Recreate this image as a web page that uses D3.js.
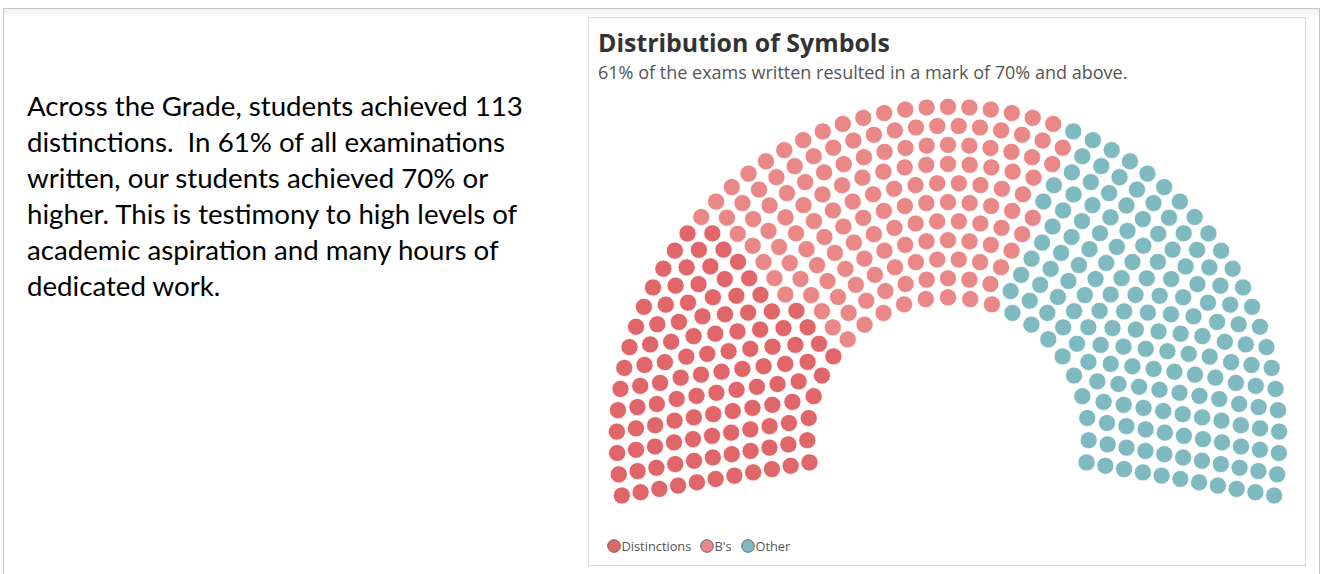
<!DOCTYPE html>
<html>
<head>
<meta charset="utf-8">
<script src="https://cdn.jsdelivr.net/npm/d3@7"></script>
<style>
  html, body { margin: 0; padding: 0; background: #fff; }
  svg { display: block; }
</style>
</head>
<body>
<div id="chart"></div>
<script>
// Data
var categories = ['Distinctions', "B's", 'Other'];
var seats = [113, 148, 170];
var colours = ['#e1666a', '#e98886', '#7fbac1'];

var titleText = 'Distribution of Symbols';
var subtitleText = '61% of the exams written resulted in a mark of 70% and above.';
var noteLines = [
    'Across the Grade, students achieved 113',
    'distinctions.  In 61% of all examinations',
    'written, our students achieved 70% or',
    'higher. This is testimony to high levels of',
    'academic aspiration and many hours of',
    'dedicated work.'
];

var sizes = {width: 1323, height: 574};
var svg = d3.select('#chart')
            .append('svg')
            .attr('width', sizes.width)
            .attr('height', sizes.height);

// fit a text node to a target width by scaling its font size
var fitWidth = function(sel, size, target){
    var w = sel.node().getComputedTextLength();
    sel.attr('font-size', size * target / w);
};

// page frame + chart panel
svg.append('rect')
    .attr('x', 3.5).attr('y', 8.5)
    .attr('width', 1316).attr('height', 580)
    .style('fill', '#fff').style('stroke', '#c6c6c6');
svg.append('rect')
    .attr('x', 4).attr('y', 9)
    .attr('width', 1315).attr('height', 6)
    .style('fill', '#f6f6f6');
svg.append('rect')
    .attr('x', 588.5).attr('y', 17.5)
    .attr('width', 717).attr('height', 548)
    .style('fill', '#fff').style('stroke', '#dcdcdc');

// left note (keep the double space after "distinctions.")
var note = svg.append('g')
    .attr('font-family', 'Lato, "Liberation Sans", sans-serif')
    .attr('font-size', 24)
    .style('fill', '#000');
note.selectAll('text')
    .data(noteLines)
    .enter()
    .append('text')
    .attr('xml:space', 'preserve')
    .attr('x', 27)
    .attr('y', function(d, i){ return 116 + i * 36; })
    .text(function(d){ return d.replace(/  /g, ' \u00a0'); });
var w0 = note.select('text').node().getComputedTextLength();
note.attr('font-size', 24 * 496 / w0);

// titles
var title = svg.append('text')
    .attr('x', 598).attr('y', 52)
    .attr('font-family', '"Open Sans", sans-serif')
    .attr('font-weight', 'bold')
    .attr('font-size', 22)
    .style('fill', '#333')
    .text(titleText);
fitWidth(title, 22, 292);
var subtitle = svg.append('text')
    .attr('x', 598).attr('y', 79)
    .attr('font-family', '"Open Sans", sans-serif')
    .attr('font-size', 15)
    .style('fill', '#555')
    .text(subtitleText);
fitWidth(subtitle, 15, 530);

// Parliament layout
var centre = {x: 948, y: 438},
    nRows = 11,
    dotR = 8.6,
    total = d3.sum(seats);

var radius = d3.scaleLinear().domain([0, nRows - 1]).range([140.7, 331.2]);
var rowRadii = d3.range(nRows).map(radius);
var rSum = d3.sum(rowRadii);

// seats per row proportional to radius (largest remainder)
var raw = rowRadii.map(function(r){ return total * r / rSum; });
var counts = raw.map(Math.floor);
var left = total - d3.sum(counts);
d3.range(nRows)
    .sort(function(a, b){ return (raw[b] - counts[b]) - (raw[a] - counts[a]); })
    .slice(0, left)
    .forEach(function(i){ counts[i] += 1; });

var points = [];
counts.forEach(function(n, row){
    var ang = d3.scaleLinear().domain([0, n - 1]).range([190, -10]);
    for (var j = 0; j < n; j++){
        var a = ang(j) * Math.PI / 180;
        points.push({
            angle: ang(j),
            row: row,
            x: centre.x + rowRadii[row] * Math.cos(a),
            y: centre.y - rowRadii[row] * Math.sin(a)
        });
    }
});
points.sort(function(a, b){ return (b.angle - a.angle) || (a.row - b.row); });

var bounds = d3.cumsum(seats);
points.forEach(function(p, i){
    p.cat = d3.bisectRight(bounds, i);
});

var colour = d3.scaleOrdinal().domain(d3.range(categories.length)).range(colours);

svg.append('g')
    .selectAll('circle')
    .data(points)
    .enter()
    .append('circle')
    .attr('cx', function(d){ return d.x; })
    .attr('cy', function(d){ return d.y; })
    .attr('r', dotR)
    .style('fill', function(d){ return colour(d.cat); })
    .style('stroke', '#fff')
    .style('stroke-width', 0.8);

// legend
var legendX = [614, 707, 748];
var legend = svg.append('g')
    .attr('font-family', '"Open Sans", sans-serif')
    .attr('font-size', 12.8);
var item = legend.selectAll('g')
    .data(categories)
    .enter()
    .append('g')
    .attr('transform', function(d, i){ return 'translate(' + legendX[i] + ',546)'; });
item.append('circle')
    .attr('r', 6.3)
    .style('fill', function(d, i){ return colours[i]; })
    .style('stroke', '#666')
    .style('stroke-width', 1);
item.append('text')
    .attr('x', 7.5)
    .attr('y', 4.5)
    .style('fill', '#555')
    .text(function(d){ return d; });
</script>
</body>
</html>
